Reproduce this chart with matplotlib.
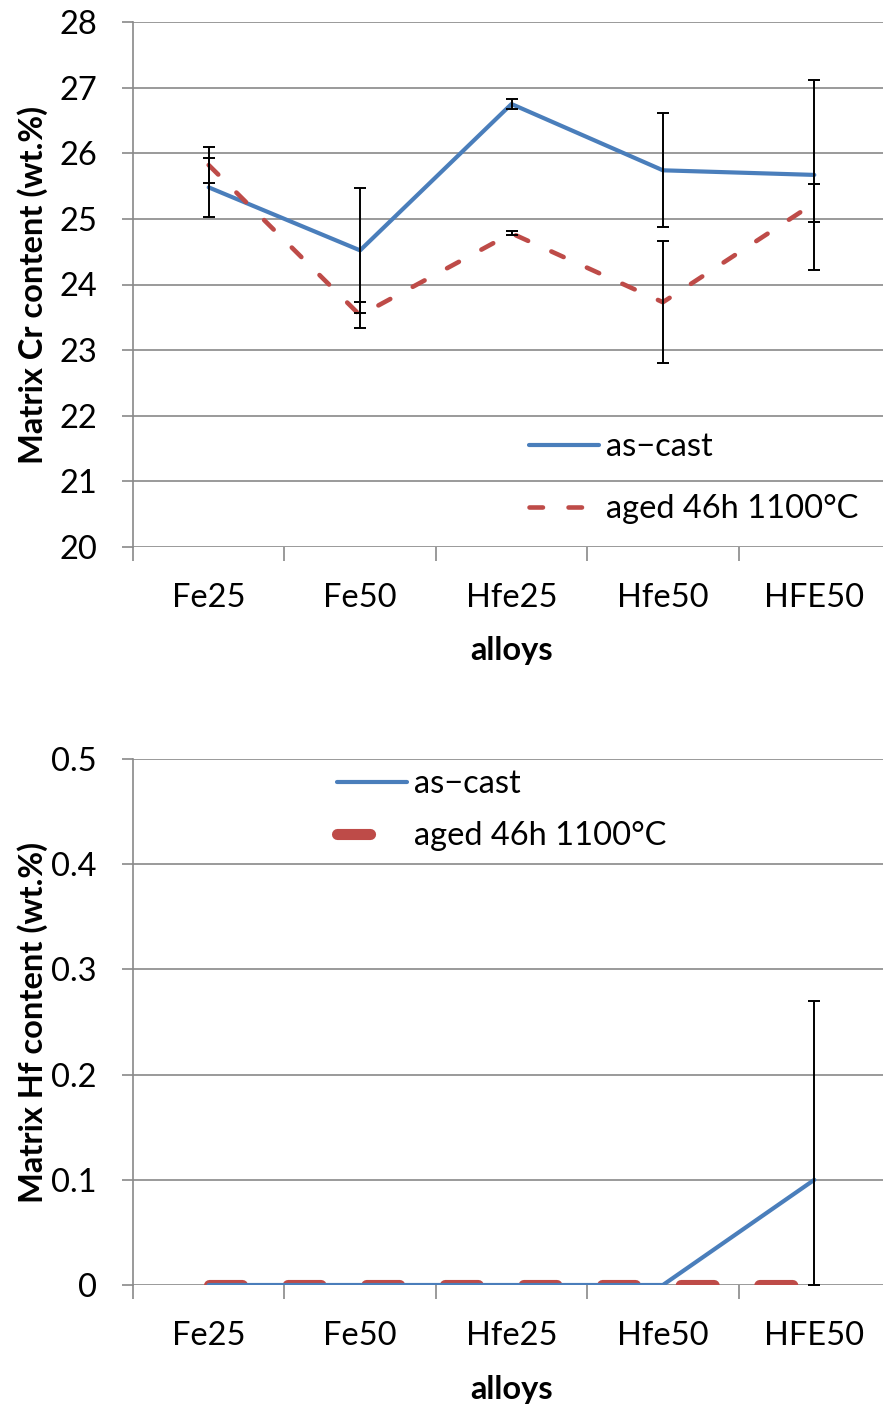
import matplotlib

matplotlib.use("Agg")
import matplotlib.pyplot as plt
import numpy as np

plt.rcParams["font.family"] = ["Lato", "DejaVu Sans"]
plt.rcParams["lines.scale_dashes"] = False

# data
alloys = ["Fe25", "Fe50", "Hfe25", "Hfe50", "HFE50"]
cr_ascast = [25.48, 24.52, 26.75, 25.74, 25.67]
cr_ascast_err = [0.45, 0.95, 0.08, 0.87, 1.45]
cr_aged = [25.82, 23.53, 24.78, 23.73, 25.24]
cr_aged_err = [0.27, 0.20, 0.03, 0.93, 0.29]
hf_ascast = [0.0, 0.0, 0.0, 0.0, 0.10]
hf_ascast_err_lo = [0.0, 0.0, 0.0, 0.0, 0.10]
hf_ascast_err_hi = [0.0, 0.0, 0.0, 0.0, 0.17]
hf_aged = [0.0, 0.0, 0.0, 0.0, 0.0]

cr_ticks = [20, 21, 22, 23, 24, 25, 26, 27, 28]
hf_ticks = [0, 0.1, 0.2, 0.3, 0.4, 0.5]
hf_ticklabels = ["0", "0.1", "0.2", "0.3", "0.4", "0.5"]

BLUE = "#4A7EBB"
RED = "#BE4B48"
GRID = "#898989"
FS = 23.5

W, H = 883, 1405
fig = plt.figure(figsize=(W / 100, H / 100), dpi=100)


def px_axes(left, top, right, bottom):
    return fig.add_axes([left / W, 1 - bottom / H, (right - left) / W, (bottom - top) / H])


def style_axis(ax, yticks, yticklabels, ylabel):
    x = np.arange(len(alloys))
    ax.set_xlim(-0.5, len(alloys) - 0.5)
    ax.set_xticks(np.arange(len(alloys) + 1) - 0.5)
    ax.set_xticklabels([])
    ax.set_xticks(x, minor=True)
    ax.set_xticklabels(alloys, minor=True)
    ax.tick_params(axis="x", which="major", length=10, width=1.2, color=GRID, direction="out")
    ax.tick_params(axis="x", which="minor", length=0, pad=26, labelsize=FS)
    ax.set_yticks(yticks)
    ax.set_yticklabels(yticklabels)
    ax.set_ylim(yticks[0], yticks[-1])
    ax.tick_params(axis="y", length=8, width=1.2, color=GRID, pad=18, labelsize=FS)
    ax.grid(axis="y", color=GRID, lw=1.2)
    ax.set_axisbelow(True)
    for s in ("top", "right"):
        ax.spines[s].set_visible(False)
    ax.spines["bottom"].set_visible(False)
    ax.spines["left"].set_color(GRID)
    ax.spines["left"].set_linewidth(1.2)
    ax.set_xlabel("alloys", fontsize=FS, fontweight="bold")
    ax.xaxis.set_label_coords(0.5, -0.198)
    ax.xaxis.label.set_verticalalignment("center")
    ax.set_ylabel(ylabel, fontsize=FS, fontweight="bold")
    ax.yaxis.set_label_coords(-0.132, 0.5)
    ax.yaxis.label.set_verticalalignment("center")


# top: Cr content
ax1 = px_axes(133, 22, 890, 547)
x = np.arange(len(alloys))
ax1.plot(x, cr_ascast, color=BLUE, lw=3, solid_joinstyle="round", solid_capstyle="round",
         label="as\u2212cast", zorder=3)
ax1.plot(x, cr_aged, color=RED, lw=3.3, linestyle=(0, (9.7, 18.4)), dash_capstyle="round",
         label="aged 46h 1100\u00b0C", zorder=3)
ax1.errorbar(x, cr_ascast, yerr=cr_ascast_err, fmt="none", ecolor="black", elinewidth=1.4,
             capsize=4.3, capthick=1.4, zorder=4)
ax1.errorbar(x, cr_aged, yerr=cr_aged_err, fmt="none", ecolor="black", elinewidth=1.4,
             capsize=4.3, capthick=1.4, zorder=4)
style_axis(ax1, cr_ticks, [str(t) for t in cr_ticks], "Matrix Cr content (wt.%)")
ax1.legend(loc="upper left", bbox_to_anchor=(529 / W, 1 - 432 / H), bbox_transform=fig.transFigure,
           frameon=False, fontsize=FS, handlelength=2.15, handletextpad=0.2, labelspacing=0.98,
           borderpad=0, borderaxespad=0)

# bottom: Hf content
ax2 = px_axes(133, 759, 890, 1285)
ax2.plot(x, hf_aged, color=RED, lw=8, linestyle=(0, (23.8, 32.8)), dash_capstyle="round",
         label="aged 46h 1100\u00b0C", zorder=3)
ax2.plot(x, hf_ascast, color=BLUE, lw=3, solid_joinstyle="round", solid_capstyle="round",
         label="as\u2212cast", zorder=4)
nz = [i for i in range(len(alloys)) if hf_ascast_err_hi[i] > 0]
ax2.errorbar([x[i] for i in nz], [hf_ascast[i] for i in nz],
             yerr=[[hf_ascast_err_lo[i] for i in nz], [hf_ascast_err_hi[i] for i in nz]],
             fmt="none", ecolor="black", elinewidth=1.4, capsize=4.3, capthick=1.4, zorder=5,
             clip_on=False)
style_axis(ax2, hf_ticks, hf_ticklabels, "Matrix Hf content (wt.%)")
handles, labels = ax2.get_legend_handles_labels()
ax2.legend(handles[::-1], labels[::-1], loc="upper left", bbox_to_anchor=(337 / W, 1 - 769 / H),
           bbox_transform=fig.transFigure, frameon=False, fontsize=FS, handlelength=2.15,
           handletextpad=0.2, labelspacing=0.68, borderpad=0, borderaxespad=0)

fig.savefig("out.png", dpi=100)
